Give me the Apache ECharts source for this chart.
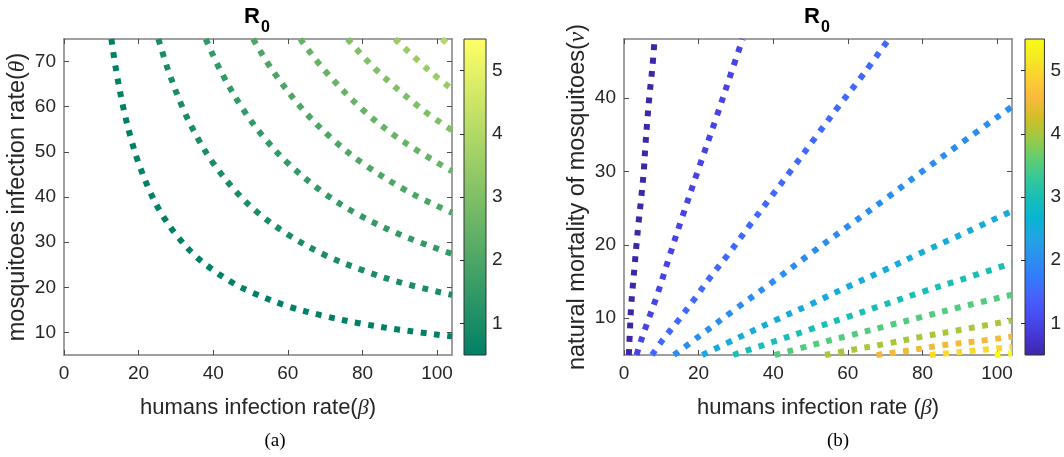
<!DOCTYPE html>
<html>
<head>
<meta charset="utf-8">
<script src="https://cdn.jsdelivr.net/npm/echarts@6/dist/echarts.min.js"></script>
<style>
  html, body { margin: 0; padding: 0; background: #ffffff; }
  #chart { width: 1064px; height: 457px; }
</style>
</head>
<body>
<div id="chart"></div>
<script>
// ---------- data ----------
// Panel (a): R0 contour levels over humans infection rate (beta) and mosquitoes infection rate (theta)
const levelsA = [0.5, 1.0, 1.5, 2.0, 2.5, 3.0, 3.5, 4.0];
const contoursA = [
  [[12.7,75],[14,67.9],[16,59.4],[18,52.8],[20,47.5],[23,41.3],[26,36.5],[30,31.7],[35,27.1],[40,23.8],[45,21.1],[50,19.0],[60,15.8],[70,13.6],[80,11.9],[90,10.6],[104,9.1]],
  [[25.3,75],[28,67.9],[32,59.4],[36,52.8],[40,47.5],[46,41.3],[52,36.5],[60,31.7],[70,27.1],[80,23.8],[90,21.1],[104,18.3]],
  [[38,75],[42,67.9],[48,59.4],[54,52.8],[60,47.5],[69,41.3],[78,36.5],[90,31.7],[104,27.4]],
  [[50.7,75],[56,67.9],[64,59.4],[72,52.8],[80,47.5],[92,41.3],[104,36.5]],
  [[63.3,75],[70,67.9],[80,59.4],[90,52.8],[104,45.7]],
  [[76,75],[84,67.9],[96,59.4],[104,54.8]],
  [[88.7,75],[98,67.9],[104,63.9]],
  [[101.3,75],[104,73.1]]
];

// Panel (b): R0 contour levels over humans infection rate (beta) and natural mortality of mosquitoes (nu)
const levelsB = [0.5, 1.0, 1.5, 2.0, 2.5, 3.0, 3.5, 4.0, 4.5, 5.0, 5.5];
const contoursB = [
  [[1.3,5],[1.6,8.5],[1.9,11.5],[2.3,14],[2.8,16.9],[3.4,20.3],[3.9,23],[4.6,26.3],[5.3,30],[5.7,33.2],[6.2,36.6],[6.8,40.2],[7.6,44.1],[8.2,48]],
  [[3.4,5],[4,6.1],[6.4,9.6],[8.8,13],[12.1,18.3],[15.5,23.6],[20.1,30.5],[24.6,37.1],[29.2,44.1],[31.8,48]],
  [[7.5,5],[10.3,7],[14.7,9.8],[19,12.7],[23.3,15.7],[27.8,18.6],[34.2,23],[38.5,25.9],[44.9,30.2],[51.3,34.6],[57.6,38.9],[64.3,43.3],[71,48]],
  [[13.4,5],[20,7.5],[30,11.3],[40,15],[50,18.8],[60,22.5],[70,26.2],[80,30],[90,33.7],[104,38.8]],
  [[21,5],[30,7.2],[40,9.6],[50,11.9],[60,14.3],[70,16.6],[80,19],[90,21.3],[104,24.6]],
  [[29.3,5],[40,6.8],[50,8.5],[60,10.2],[70,11.9],[80,13.6],[90,15.2],[104,17.5]],
  [[40.4,5],[50,6.3],[60,7.6],[70,8.9],[80,10.2],[90,11.5],[104,13.2]],
  [[53.9,5],[60,5.6],[70,6.5],[80,7.5],[90,8.4],[104,9.7]],
  [[67.7,5],[75,5.5],[85,6.3],[95,6.9],[104,7.5]],
  [[82,5],[90,5.4],[104,6.1]],
  [[99.4,5],[104,5.2]]
];

// axis ranges and tick labels
const betaRange = [0, 104];
const thetaRange = [5, 75];
const nuRange = [5, 48];
const colorRange = [0.5, 5.5];
const betaTicks = [0, 20, 40, 60, 80, 100];
const thetaTicks = [10, 20, 30, 40, 50, 60, 70];
const nuTicks = [10, 20, 30, 40];
const colorTicks = [1, 2, 3, 4, 5];

// ---------- colormaps ----------
const summerMap = [[0, 0.5, 0.4], [1, 1, 0.4]];
const parulaMap = [
  [0.2422,0.1504,0.6603],[0.2706,0.2147,0.8364],[0.2813,0.3006,0.9414],[0.2699,0.3892,0.9906],
  [0.1963,0.4847,0.9892],[0.1687,0.5703,0.9359],[0.1248,0.6459,0.8883],[0.0297,0.7082,0.8163],
  [0.0964,0.7500,0.7120],[0.2161,0.7843,0.5923],[0.3909,0.8029,0.4354],[0.6174,0.7876,0.2612],
  [0.8203,0.7498,0.1535],[0.9728,0.7298,0.2394],[0.9892,0.8136,0.1885],[0.9597,0.9135,0.1423],
  [0.9769,0.9839,0.0805]
];

function rgb(c) {
  return 'rgb(' + c.map(v => Math.round(v * 255)).join(',') + ')';
}
function colorAt(map, value) {
  let t = (value - colorRange[0]) / (colorRange[1] - colorRange[0]);
  t = Math.min(Math.max(t, 0), 1);
  const n = map.length - 1;
  const f = t * n;
  const i = Math.min(Math.floor(f), n - 1);
  const u = f - i;
  return rgb(map[i].map((a, k) => a + (map[i + 1][k] - a) * u));
}
function gradientStops(map) {
  return map.map((c, i) => ({ offset: i / (map.length - 1), color: rgb(c) }));
}

// ---------- styling ----------
const FONT = '"Liberation Sans", Arial, Helvetica, sans-serif';
const SERIF = '"Liberation Serif", "Times New Roman", serif';
const TEXT = '#262626';
const BOX = '#808080';
const TICK = '#4d4d4d';
const TICK_FONT = 19;
const XNAME_FONT = 22;
const YNAME_FONT = 23.5;

const plotA = { left: 64, top: 39, width: 388, height: 316 };
const barA = { left: 464, top: 39, width: 22, height: 316 };
const plotB = { left: 624, top: 39, width: 388, height: 316 };
const barB = { left: 1025, top: 39, width: 22, height: 316 };

function nameRich(size) {
  return {
    fontSize: size, fontFamily: FONT, color: TEXT,
    rich: {
      t: { fontSize: size, fontFamily: FONT, color: TEXT },
      g: { fontSize: size, fontFamily: SERIF, fontStyle: 'italic', color: TEXT }
    }
  };
}

function mainX(grid, range, ticks, name) {
  return {
    type: 'value', gridIndex: grid, position: 'bottom', min: range[0], max: range[1],
    axisLine: { show: true, onZero: false, lineStyle: { color: BOX, width: 1.5 } },
    axisTick: { show: true, inside: true, length: 5, customValues: ticks, lineStyle: { color: TICK, width: 1 } },
    axisLabel: { show: true, customValues: ticks, margin: 9, fontSize: TICK_FONT, fontFamily: FONT, color: TEXT },
    splitLine: { show: false },
    name: name, nameLocation: 'middle', nameGap: 42, nameTextStyle: nameRich(XNAME_FONT)
  };
}
function topX(grid, range, ticks) {
  return {
    type: 'value', gridIndex: grid, position: 'top', min: range[0], max: range[1],
    axisLine: { show: true, onZero: false, lineStyle: { color: BOX, width: 1.5 } },
    axisTick: { show: true, inside: true, length: 5, customValues: ticks, lineStyle: { color: TICK, width: 1 } },
    axisLabel: { show: false }, splitLine: { show: false }
  };
}
function mainY(grid, range, ticks, name) {
  return {
    type: 'value', gridIndex: grid, position: 'left', min: range[0], max: range[1],
    axisLine: { show: true, onZero: false, lineStyle: { color: BOX, width: 1.5 } },
    axisTick: { show: true, inside: true, length: 5, customValues: ticks, lineStyle: { color: TICK, width: 1 } },
    axisLabel: { show: true, customValues: ticks, margin: 8, fontSize: TICK_FONT, fontFamily: FONT, color: TEXT },
    splitLine: { show: false },
    name: name, nameLocation: 'middle', nameGap: 34, nameTextStyle: nameRich(YNAME_FONT)
  };
}
function rightY(grid, range, ticks) {
  return {
    type: 'value', gridIndex: grid, position: 'right', min: range[0], max: range[1],
    axisLine: { show: true, onZero: false, lineStyle: { color: BOX, width: 1.5 } },
    axisTick: { show: true, inside: true, length: 5, customValues: ticks, lineStyle: { color: TICK, width: 1 } },
    axisLabel: { show: false }, splitLine: { show: false }
  };
}
function barX(grid) {
  return { type: 'value', gridIndex: grid, min: 0, max: 1, show: false };
}
function barY(grid) {
  return {
    type: 'value', gridIndex: grid, position: 'right', min: colorRange[0], max: colorRange[1],
    axisLine: { show: false },
    axisTick: { show: true, inside: true, length: 4, customValues: colorTicks, lineStyle: { color: TEXT, width: 1 } },
    axisLabel: { show: true, customValues: colorTicks, margin: 6, fontSize: TICK_FONT, fontFamily: FONT, color: TEXT },
    splitLine: { show: false }
  };
}

function contourSeries(contours, levels, map, xi, yi) {
  return contours.map((pts, k) => ({
    type: 'line', xAxisIndex: xi, yAxisIndex: yi,
    data: pts, smooth: 0.35, symbol: 'none', silent: true, clip: true,
    lineStyle: { color: colorAt(map, levels[k]), width: 6, type: [5.8, 7.5], cap: 'butt', join: 'miter' },
    z: 2
  }));
}
function colorbarSeries(map, xi, yi) {
  return {
    type: 'custom', xAxisIndex: xi, yAxisIndex: yi, silent: true, clip: false,
    data: [[0, colorRange[0], colorRange[1]]],
    renderItem: function (params, api) {
      const p0 = api.coord([0, api.value(2)]);
      const p1 = api.coord([1, api.value(1)]);
      return {
        type: 'rect',
        shape: { x: p0[0], y: p0[1], width: p1[0] - p0[0], height: p1[1] - p0[1] },
        style: {
          fill: new echarts.graphic.LinearGradient(0, 1, 0, 0, gradientStops(map)),
          stroke: '#333333', lineWidth: 1
        }
      };
    }
  };
}

function titleR0(cx) {
  return [
    { type: 'text', x: cx + 2, y: 17, style: { text: 'R', font: 'bold 22px ' + FONT, fill: '#000', align: 'right', verticalAlign: 'middle' } },
    { type: 'text', x: cx + 3, y: 27.5, style: { text: '0', font: 'bold 16px ' + FONT, fill: '#000', align: 'left', verticalAlign: 'middle' } }
  ];
}

const chart = echarts.init(document.getElementById('chart'), null, { renderer: 'canvas' });
chart.setOption({
  animation: false,
  backgroundColor: '#ffffff',
  grid: [plotA, barA, plotB, barB].map(g => Object.assign({ containLabel: false }, g)),
  xAxis: [
    mainX(0, betaRange, betaTicks, '{t|humans infection rate(}{g|β}{t|)}'),
    topX(0, betaRange, betaTicks),
    barX(1),
    mainX(2, betaRange, betaTicks, '{t|humans infection rate (}{g|β}{t|)}'),
    topX(2, betaRange, betaTicks),
    barX(3)
  ],
  yAxis: [
    mainY(0, thetaRange, thetaTicks, '{t|mosquitoes infection rate(}{g|θ}{t|)}'),
    rightY(0, thetaRange, thetaTicks),
    barY(1),
    mainY(2, nuRange, nuTicks, '{t|natural mortality of mosquitoes(}{g|ν}{t|)}'),
    rightY(2, nuRange, nuTicks),
    barY(3)
  ],
  series: [].concat(
    contourSeries(contoursA, levelsA, summerMap, 0, 0),
    contourSeries(contoursB, levelsB, parulaMap, 3, 3),
    [colorbarSeries(summerMap, 2, 2), colorbarSeries(parulaMap, 5, 5)]
  ),
  graphic: [].concat(
    titleR0(258),
    titleR0(818),
    [
      { type: 'text', x: 275, y: 441, style: { text: '(a)', font: '19px ' + SERIF, fill: '#000', align: 'center', verticalAlign: 'middle' } },
      { type: 'text', x: 838, y: 441, style: { text: '(b)', font: '19px ' + SERIF, fill: '#000', align: 'center', verticalAlign: 'middle' } }
    ]
  )
});
</script>
</body>
</html>
